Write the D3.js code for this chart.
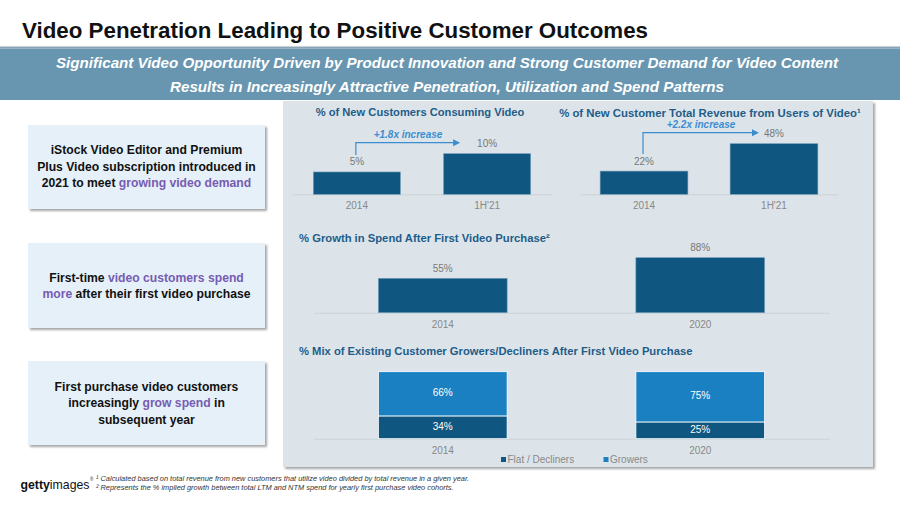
<!DOCTYPE html>
<html><head><meta charset="utf-8">
<script src="https://cdn.jsdelivr.net/npm/d3@7"></script>
<style>body{margin:0;background:#fff} svg{display:block;font-family:"Liberation Sans",Arial,Helvetica,sans-serif}</style>
</head><body><svg id="c" width="900" height="506"></svg>
<script>
// ---------------- DATA ----------------
const newCustCategories = ["2014", "1H'21"];
const newCustVideo = [5.5, 10];
const newCustVideoLabels = ["5%", "10%"];

const revenueCategories = ["2014", "1H'21"];
const revenueVideoUsers = [22, 48];
const revenueVideoLabels = ["22%", "48%"];

const spendCategories = ["2014", "2020"];
const spendGrowth = [55, 88];
const spendGrowthLabels = ["55%", "88%"];

const mixCategories = ["2014", "2020"];
const mixSeries = ["Flat / Decliners", "Growers"];
const flatDecliners = [34, 25];
const growersShare = [66, 75];

const increaseLabels = ["+1.8x increase", "+2.2x increase"];

const chartTitles = [
  "% of New Customers Consuming Video",
  "% of New Customer Total Revenue from Users of Video\u00B9",
  "% Growth in Spend After First Video Purchase\u00B2",
  "% Mix of Existing Customer Growers/Decliners After First Video Purchase"
];
const mainTitle = "Video Penetration Leading to Positive Customer Outcomes";
const bannerLines = [
  "Significant Video Opportunity Driven by Product Innovation and Strong Customer Demand for Video Content",
  "Results in Increasingly Attractive Penetration, Utilization and Spend Patterns"
];
const footnotes = [
  "\u00B9 Calculated based on total revenue from new customers that utilize video divided by total revenue in a given year.",
  "\u00B2 Represents the % implied growth between total LTM and NTM spend for yearly first purchase video cohorts."
];
const boxTexts = [
  [[["iStock Video Editor and Premium", 0]], [["Plus Video subscription introduced in", 0]], [["2021 to meet ", 0], ["growing video demand", 1]]],
  [[["First-time ", 0], ["video customers spend", 1]], [["more", 1], [" after their first video purchase", 0]]],
  [[["First purchase video customers", 0]], [["increasingly ", 0], ["grow spend", 1], [" in", 0]], [["subsequent year", 0]]]
];

// ---------------- STYLE ----------------
const C = {
  dark: "#0f5780", grow: "#1a80c2", panel: "#dde4e9", chartTitle: "#1e5d89",
  banner: "#6896b0", rule: "#8da4b4", box: "#e6f0f8", purple: "#765cb2",
  value: "#777", axis: "#888", base: "#cad2d8", arrow: "#3b8dd0"
};

const svg = d3.select("#c");
const defs = svg.append("defs");
const f = defs.append("filter").attr("id", "sh").attr("x", "-5%").attr("y", "-5%").attr("width", "115%").attr("height", "120%");
f.append("feDropShadow").attr("dx", 2).attr("dy", 2).attr("stdDeviation", 1.2).attr("flood-color", "#000").attr("flood-opacity", 0.35);

function fit(sel, w) {
  const l = sel.node().getComputedTextLength();
  const fs = parseFloat(sel.attr("font-size"));
  sel.attr("font-size", fs * w / l);
  return fs * w / l;
}
// condensed look: keep the font size, squeeze glyphs to the target width
function squeeze(sel, w) {
  sel.attr("textLength", w).attr("lengthAdjust", "spacingAndGlyphs");
}

// Title
const t = svg.append("text").attr("x", 22).attr("y", 38).attr("font-size", 22.5).attr("font-weight", "bold")
  .attr("fill", "#111").text(mainTitle);
squeeze(t, 626);
svg.append("rect").attr("x", 0).attr("y", 46.5).attr("width", 900).attr("height", 2).attr("fill", C.rule);

// Banner
svg.append("rect").attr("x", 0).attr("y", 48.5).attr("width", 900).attr("height", 51.5).attr("fill", C.banner);
const bannerW = [782, 554];
bannerLines.forEach((s, i) => {
  const b = svg.append("text").attr("x", 447 - bannerW[i] / 2).attr("y", 67.5 + i * 24.5).attr("font-size", 14.5)
    .attr("font-weight", "bold").attr("font-style", "italic").attr("fill", "#fff").text(s);
  squeeze(b, bannerW[i]);
});

// Panel
svg.append("rect").attr("x", 283).attr("y", 101).attr("width", 590).attr("height", 366).attr("fill", C.panel).attr("filter", "url(#sh)");

// Left boxes
const boxes = [{ y0: 125, y1: 209, base: 154 }, { y0: 243, y1: 328, base: 281.7 }, { y0: 361, y1: 445, base: 390.7 }];
let boxFs = 12;
{
  const probe = svg.append("text").attr("font-size", 12).attr("font-weight", "bold").text(boxTexts[0][1][0][0]);
  boxFs = fit(probe, 219); probe.remove();
}
boxes.forEach((b, i) => {
  svg.append("rect").attr("x", 28).attr("y", b.y0).attr("width", 237).attr("height", b.y1 - b.y0).attr("fill", C.box).attr("filter", "url(#sh)");
  boxTexts[i].forEach((line, j) => {
    const tx = svg.append("text").attr("x", 146.5).attr("y", b.base + j * 16.6).attr("text-anchor", "middle")
      .attr("font-size", boxFs).attr("font-weight", "bold");
    line.forEach(p => tx.append("tspan").attr("fill", p[1] ? C.purple : "#111").text(p[0]));
  });
});

// Simple bar chart helper
function barChart(cfg) {
  const g = svg.append("g");
  const x = d3.scaleBand().domain(cfg.cats).range(cfg.xr).paddingInner(cfg.pi).paddingOuter(cfg.po);
  const y = d3.scaleLinear().domain([0, cfg.ymax]).range(cfg.yr);
  const ax = g.append("g").attr("transform", `translate(0,${cfg.yr[0]})`)
    .call(d3.axisBottom(x).tickSize(0).tickSizeOuter(0).tickPadding(8));
  ax.select(".domain").attr("stroke", C.base).attr("stroke-width", 1);
  ax.selectAll("text").attr("fill", C.axis).attr("font-size", 10).attr("font-family", "Liberation Sans, Arial, sans-serif");
  g.selectAll("rect.bar").data(cfg.vals).join("rect").attr("class", "bar")
    .attr("x", (d, i) => x(cfg.cats[i])).attr("width", x.bandwidth())
    .attr("y", d => y(d)).attr("height", d => y(0) - y(d))
    .attr("fill", C.dark).attr("stroke", "#6f9bb8").attr("stroke-width", 0.6);
  g.selectAll("text.val").data(cfg.vals).join("text").attr("class", "val")
    .attr("x", (d, i) => x(cfg.cats[i]) + x.bandwidth() / 2).attr("y", d => y(d) - 6.5)
    .attr("text-anchor", "middle").attr("font-size", 10).attr("fill", C.value).text((d, i) => cfg.labels[i]);
  const tt = g.append("text").attr("x", cfg.tx).attr("y", cfg.ty).attr("text-anchor", cfg.ta)
    .attr("font-size", 11.5).attr("font-weight", "bold").attr("fill", C.chartTitle).text(cfg.title);
  fit(tt, cfg.tw);
  if (cfg.inc) {
    const cx1 = x(cfg.cats[0]) + x.bandwidth() / 2 - 1;
    const cx2 = x(cfg.cats[1]) + x.bandwidth() / 2;
    const yb = y(cfg.vals[0]) - 17;
    const yt = y(cfg.vals[1]) - 11;
    const tip = cx2 + cfg.tipOff;
    g.append("path").attr("d", `M${cx1},${yb}V${yt}H${tip - 6}`).attr("fill", "none").attr("stroke", C.arrow).attr("stroke-width", 1.2);
    g.append("path").attr("d", `M${tip},${yt}L${tip - 7},${yt - 3.5}L${tip - 7},${yt + 3.5}Z`).attr("fill", C.arrow);
    g.append("text").attr("x", (cx1 + tip) / 2).attr("y", yt - 4.5).attr("text-anchor", "middle")
      .attr("font-size", 10).attr("font-weight", "bold").attr("font-style", "italic").attr("fill", C.arrow).text(cfg.inc);
  }
  return { x, y };
}

barChart({ cats: newCustCategories, vals: newCustVideo, labels: newCustVideoLabels, xr: [292, 552], pi: 0.332, po: 0.164,
  yr: [194.3, 153.7], ymax: 10, title: chartTitles[0], tx: 420, ty: 116, ta: "middle", tw: 209, inc: increaseLabels[0], tipOff: -27 });
barChart({ cats: revenueCategories, vals: revenueVideoUsers, labels: revenueVideoLabels, xr: [580, 838], pi: 0.325, po: 0.155,
  yr: [194.3, 143.7], ymax: 48, title: chartTitles[1], tx: 710, ty: 116.5, ta: "middle", tw: 302, inc: increaseLabels[1], tipOff: -15 });
barChart({ cats: spendCategories, vals: spendGrowth, labels: spendGrowthLabels, xr: [314, 829], pi: 0.5, po: 0.25,
  yr: [312.7, 257.7], ymax: 88, title: chartTitles[2], tx: 299, ty: 241.7, ta: "start", tw: 251 });

// Stacked chart
{
  const g = svg.append("g");
  const x = d3.scaleBand().domain(mixCategories).range([314, 829]).paddingInner(0.5).paddingOuter(0.25);
  const y = d3.scaleLinear().domain([0, 100]).range([438.7, 371.7]);
  const color = d3.scaleOrdinal().domain(mixSeries).range([C.dark, C.grow]);
  const table = mixCategories.map((c, i) => ({ cat: c, [mixSeries[0]]: flatDecliners[i], [mixSeries[1]]: growersShare[i] }));
  const stacked = d3.stack().keys(mixSeries)(table);
  const ax = g.append("g").attr("transform", `translate(0,${y(0)})`)
    .call(d3.axisBottom(x).tickSize(0).tickSizeOuter(0).tickPadding(8));
  ax.select(".domain").attr("stroke", C.base);
  ax.selectAll("text").attr("fill", C.axis).attr("font-size", 10).attr("font-family", "Liberation Sans, Arial, sans-serif");
  const layers = g.selectAll("g.layer").data(stacked).join("g").attr("class", "layer").attr("fill", d => color(d.key));
  layers.selectAll("rect").data(d => d).join("rect")
    .attr("x", d => x(d.data.cat)).attr("width", x.bandwidth())
    .attr("y", d => y(d[1])).attr("height", d => y(d[0]) - y(d[1]))
    .attr("stroke", "#fff").attr("stroke-width", 0.8);
  layers.selectAll("text").data(d => d).join("text")
    .attr("x", d => x(d.data.cat) + x.bandwidth() / 2).attr("y", d => (y(d[0]) + y(d[1])) / 2 - 1)
    .attr("dominant-baseline", "central").attr("text-anchor", "middle").attr("font-size", 10).attr("fill", "#fff")
    .text(d => Math.round(d[1] - d[0]) + "%");
  const tt = g.append("text").attr("x", 299).attr("y", 355).attr("font-size", 11.5).attr("font-weight", "bold")
    .attr("fill", C.chartTitle).text(chartTitles[3]);
  fit(tt, 394);
  // legend
  const legX = [501, 603.5];
  mixSeries.forEach((s, i) => {
    g.append("rect").attr("x", legX[i]).attr("y", 457).attr("width", 5).attr("height", 5).attr("fill", color(s));
    g.append("text").attr("x", legX[i] + 6.5).attr("y", 462.8).attr("font-size", 10).attr("fill", C.axis).text(s);
  });
}

// Footer
const logo = svg.append("text").attr("x", 20.5).attr("y", 489).attr("font-size", 13).attr("fill", "#111");
logo.append("tspan").attr("font-weight", "bold").text("getty");
logo.append("tspan").text("images");
fit(logo, 69);
svg.append("text").attr("x", 90).attr("y", 481).attr("font-size", 4.5).attr("fill", "#111").text("\u00AE");
const fn1 = svg.append("text").attr("x", 96).attr("y", 480.5).attr("font-size", 7).attr("font-style", "italic").attr("fill", "#333").text(footnotes[0]);
const ffs = fit(fn1, 374);
svg.append("text").attr("x", 96).attr("y", 489.5).attr("font-size", ffs).attr("font-style", "italic").attr("fill", "#333").text(footnotes[1]);
</script></body></html>
